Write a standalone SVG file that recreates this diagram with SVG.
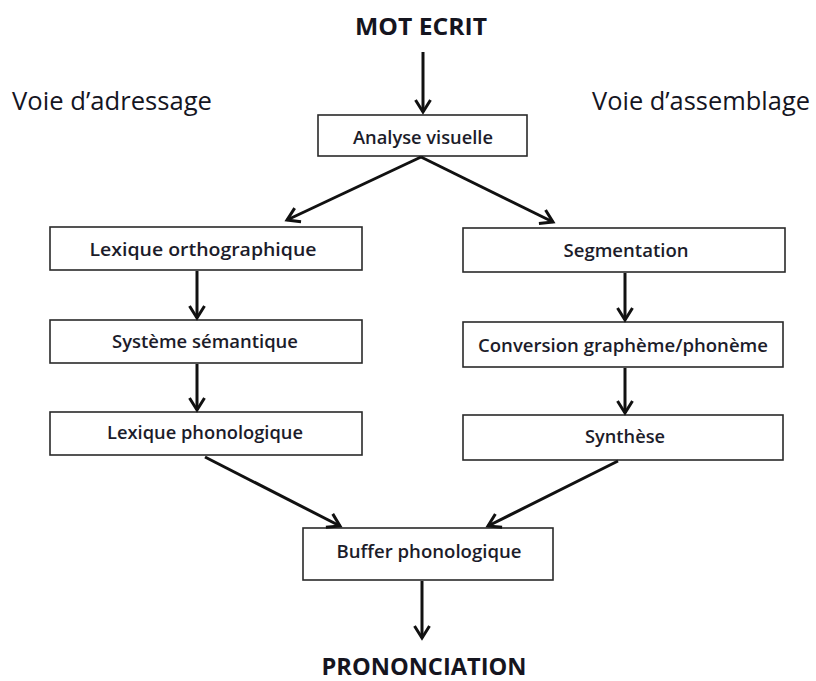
<svg xmlns="http://www.w3.org/2000/svg" width="816" height="681" viewBox="0 0 816 681">
<defs>
<style>
.box{fill:#fff;stroke:#2a2a2a;stroke-width:1.6}
.lbl{font-family:"Open Sans","Liberation Sans",sans-serif;font-size:17.5px;fill:#1c1c2a;text-anchor:middle;font-weight:600}
.head{font-family:"Open Sans","Liberation Sans",sans-serif;font-size:26px;fill:#15151f;text-anchor:middle;font-weight:500}
.title{font-family:"Open Sans","Liberation Sans",sans-serif;font-size:24px;font-weight:bold;fill:#15151f;text-anchor:middle}
.conn{stroke:#111;stroke-width:3;fill:none;marker-end:url(#ah)}
</style>
<marker id="ah" markerUnits="userSpaceOnUse" markerWidth="20" markerHeight="20" viewBox="-16 -10 20 20" refX="0" refY="0" orient="auto">
<path d="M -12 -7.5 L 0 0 L -12 7.5" fill="none" stroke="#111" stroke-width="3" stroke-linejoin="miter"/>
</marker>
</defs>
<rect width="816" height="681" fill="#fff"/>

<g id="mot-ecrit"><text class="title" x="421" y="35" textLength="132" lengthAdjust="spacingAndGlyphs">MOT ECRIT</text></g>
<g id="voie-adressage"><text class="head" x="112" y="110" textLength="200" lengthAdjust="spacingAndGlyphs">Voie d’adressage</text></g>
<g id="voie-assemblage"><text class="head" x="701" y="110" textLength="218" lengthAdjust="spacingAndGlyphs">Voie d’assemblage</text></g>

<g id="analyse-visuelle"><rect class="box" x="318" y="115" width="209" height="41"/><text class="lbl" x="423" y="144" textLength="140" lengthAdjust="spacingAndGlyphs">Analyse visuelle</text></g>

<g id="lexique-orthographique"><rect class="box" x="50" y="227" width="312" height="43"/><text class="lbl" x="203" y="256" textLength="227" lengthAdjust="spacingAndGlyphs">Lexique orthographique</text></g>
<g id="systeme-semantique"><rect class="box" x="50" y="320" width="312" height="43"/><text class="lbl" x="205" y="348" textLength="186" lengthAdjust="spacingAndGlyphs">Système sémantique</text></g>
<g id="lexique-phonologique"><rect class="box" x="50" y="412" width="312" height="43"/><text class="lbl" x="205" y="439" textLength="196" lengthAdjust="spacingAndGlyphs">Lexique phonologique</text></g>

<g id="segmentation"><rect class="box" x="463" y="228" width="322" height="44"/><text class="lbl" x="626" y="257" textLength="125" lengthAdjust="spacingAndGlyphs">Segmentation</text></g>
<g id="conversion"><rect class="box" x="463" y="322" width="320" height="45"/><text class="lbl" x="623" y="352" textLength="290" lengthAdjust="spacingAndGlyphs">Conversion graphème/phonème</text></g>
<g id="synthese"><rect class="box" x="463" y="415" width="320" height="45"/><text class="lbl" x="625" y="443" textLength="80" lengthAdjust="spacingAndGlyphs">Synthèse</text></g>

<g id="buffer-phonologique"><rect class="box" x="303" y="528" width="250" height="52"/><text class="lbl" x="429" y="558" textLength="185" lengthAdjust="spacingAndGlyphs">Buffer phonologique</text></g>

<g id="prononciation"><text class="title" x="424" y="675" textLength="205" lengthAdjust="spacingAndGlyphs">PRONONCIATION</text></g>

<g id="connectors">
<line class="conn" x1="423" y1="52" x2="423" y2="112"/>
<line class="conn" x1="421" y1="157" x2="287" y2="220"/>
<line class="conn" x1="421" y1="157" x2="553" y2="222"/>
<line class="conn" x1="197" y1="271" x2="197" y2="318"/>
<line class="conn" x1="197" y1="364" x2="197" y2="410"/>
<line class="conn" x1="625" y1="273" x2="625" y2="320"/>
<line class="conn" x1="625" y1="368" x2="625" y2="413"/>
<line class="conn" x1="205" y1="457" x2="340" y2="526"/>
<line class="conn" x1="618" y1="461" x2="488" y2="526"/>
<line class="conn" x1="422" y1="581" x2="422" y2="638"/>
</g>
</svg>
